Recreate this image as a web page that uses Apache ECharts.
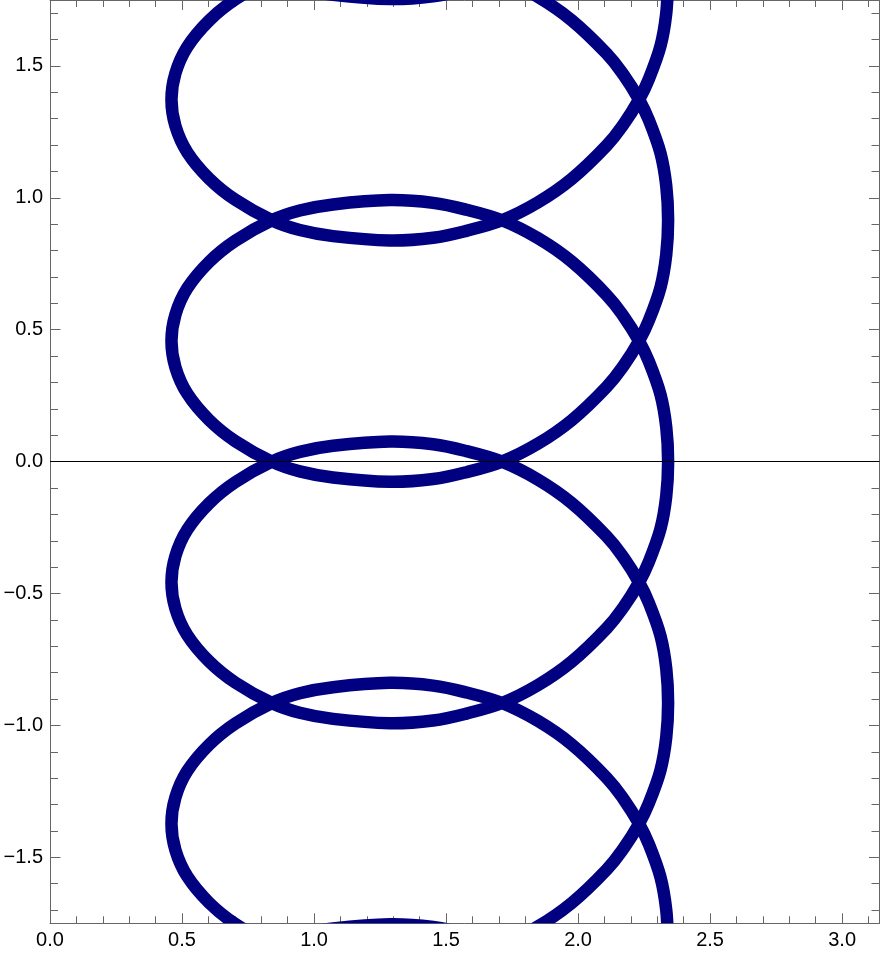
<!DOCTYPE html>
<html>
<head>
<meta charset="utf-8">
<script src="https://cdn.jsdelivr.net/npm/echarts@6/dist/echarts.min.js"></script>
<style>
  html, body { margin: 0; padding: 0; background: #ffffff; }
  #chart { width: 883px; height: 954px; }
</style>
</head>
<body>
<div id="chart"></div>
<script>
// ---- data (theta on x, phi on y) ----
const curveTheta = [
  2.341, 2.334, 2.312, 2.268, 2.231, 2.173, 2.108, 1.976, 1.848, 1.712, 1.577, 1.451, 1.287, 1.072, 0.946, 0.840, 0.702, 0.603, 0.520, 0.475, 0.460,
  0.475, 0.520, 0.603, 0.702, 0.840, 0.946, 1.072, 1.287, 1.451, 1.577, 1.712, 1.848, 1.976, 2.108, 2.173, 2.231, 2.268, 2.312, 2.334, 2.341,
  2.334, 2.312, 2.268, 2.231, 2.173, 2.108, 1.976, 1.848, 1.712, 1.577, 1.451, 1.287, 1.072, 0.946, 0.840, 0.702, 0.603, 0.520, 0.475, 0.460,
  0.475, 0.520, 0.603, 0.702, 0.840, 0.946, 1.072, 1.287, 1.451, 1.577, 1.712, 1.848, 1.976, 2.108, 2.173, 2.231, 2.268, 2.312, 2.334, 2.341,
  2.334, 2.312, 2.268, 2.231, 2.173, 2.108, 1.976, 1.848, 1.712, 1.577, 1.451, 1.287, 1.072, 0.946, 0.840, 0.702, 0.603, 0.520, 0.475, 0.460,
  0.475, 0.520, 0.603, 0.702, 0.840, 0.946, 1.072, 1.287, 1.451, 1.577, 1.712, 1.848, 1.976, 2.108, 2.173, 2.231, 2.268, 2.312, 2.334, 2.341,
  2.334, 2.312, 2.268, 2.231, 2.173, 2.108, 1.976, 1.848, 1.712, 1.577, 1.451, 1.287, 1.072, 0.946, 0.840, 0.702, 0.603, 0.520, 0.475, 0.460,
  0.475, 0.520, 0.603, 0.702, 0.840, 0.946, 1.072, 1.287, 1.451, 1.577, 1.712, 1.848, 1.976, 2.108, 2.173, 2.231, 2.268, 2.312, 2.334, 2.341
];
const curvePhi = [
  1.830, 1.700, 1.575, 1.450, 1.3725, 1.280, 1.198, 1.072, 0.983, 0.915, 0.875, 0.849, 0.8385, 0.855, 0.878, 0.915, 0.9925, 1.0725, 1.1725, 1.2725, 1.3725,
  1.4725, 1.5725, 1.6725, 1.7525, 1.830, 1.867, 1.890, 1.9065, 1.896, 1.870, 1.830, 1.762, 1.673, 1.547, 1.465, 1.3725, 1.295, 1.170, 1.045, 0.915,
  0.785, 0.660, 0.535, 0.4575, 0.365, 0.283, 0.157, 0.068, 0.000, -0.040, -0.066, -0.0765, -0.060, -0.037, 0.000, 0.0775, 0.1575, 0.2575, 0.3575, 0.4575,
  0.5575, 0.6575, 0.7575, 0.8375, 0.915, 0.952, 0.975, 0.9915, 0.981, 0.955, 0.915, 0.847, 0.758, 0.632, 0.550, 0.4575, 0.380, 0.255, 0.130, 0.000,
  -0.130, -0.255, -0.380, -0.4575, -0.550, -0.632, -0.758, -0.847, -0.915, -0.955, -0.981, -0.9915, -0.975, -0.952, -0.915, -0.8375, -0.7575, -0.6575, -0.5575, -0.4575,
  -0.3575, -0.2575, -0.1575, -0.0775, 0.000, 0.037, 0.060, 0.0765, 0.066, 0.040, 0.000, -0.068, -0.157, -0.283, -0.365, -0.4575, -0.535, -0.660, -0.785, -0.915,
  -1.045, -1.170, -1.295, -1.3725, -1.465, -1.547, -1.673, -1.762, -1.830, -1.870, -1.896, -1.9065, -1.890, -1.867, -1.830, -1.7525, -1.6725, -1.5725, -1.4725, -1.3725,
  -1.2725, -1.1725, -1.0725, -0.9925, -0.915, -0.878, -0.855, -0.8385, -0.849, -0.875, -0.915, -0.983, -1.072, -1.198, -1.280, -1.3725, -1.450, -1.575, -1.700, -1.830
];
const topArcTheta = [2.108, 1.976, 1.848, 1.712, 1.577, 1.451, 1.287, 1.072, 0.946, 0.840, 0.702];
const topArcPhi = [2.113, 1.987, 1.898, 1.830, 1.790, 1.764, 1.7535, 1.770, 1.793, 1.830, 1.9075];
const bottomArcTheta = [2.108, 1.976, 1.848, 1.712, 1.577, 1.451, 1.287, 1.072, 0.946, 0.840, 0.702];
const bottomArcPhi = [-2.113, -1.987, -1.898, -1.830, -1.790, -1.764, -1.7535, -1.770, -1.793, -1.830, -1.9075];

// ---- axes / ticks ----
const xRange = [0, Math.PI];
const yRange = [-1.75, 1.75];
const xMajorTicks = [0, 0.5, 1, 1.5, 2, 2.5, 3];
const xMinorTicks = [0.1, 0.2, 0.3, 0.4, 0.6, 0.7, 0.8, 0.9, 1.1, 1.2, 1.3, 1.4, 1.6, 1.7, 1.8, 1.9, 2.1, 2.2, 2.3, 2.4, 2.6, 2.7, 2.8, 2.9, 3.1];
const yMajorTicks = [-1.5, -1, -0.5, 0, 0.5, 1, 1.5];
const yMinorTicks = [-1.7, -1.6, -1.4, -1.3, -1.2, -1.1, -0.9, -0.8, -0.7, -0.6, -0.4, -0.3, -0.2, -0.1,
                     0.1, 0.2, 0.3, 0.4, 0.6, 0.7, 0.8, 0.9, 1.1, 1.2, 1.3, 1.4, 1.6, 1.7];

const FRAME = '#666666';
const CURVE = '#000080';

function fmt(v) {
  return (v < 0 ? '\u2212' : '') + Math.abs(v).toFixed(1);
}
function zip(a, b) { return a.map((v, i) => [v, b[i]]); }

function frameAxis(position, range, ticks, len, withLabels, showLine) {
  return {
    type: 'value',
    position: position,
    min: range[0],
    max: range[1],
    axisLine: { show: showLine, onZero: false, lineStyle: { color: FRAME, width: 1 } },
    axisTick: { show: true, inside: true, length: len, customValues: ticks,
                lineStyle: { color: FRAME, width: 1 } },
    axisLabel: withLabels ? {
      show: true, customValues: ticks, margin: 7, fontSize: 20,
      fontFamily: 'Liberation Sans, Arial, sans-serif', color: '#000000', formatter: fmt
    } : { show: false },
    splitLine: { show: false },
    minorTick: { show: false },
    minorSplitLine: { show: false }
  };
}

// Smooth curve through the read points (Catmull-Rom), positioned through the axes' scales.
function curveSeries(thetas, phis, withZeroLine) {
  const s = {
    type: 'custom',
    coordinateSystem: 'cartesian2d',
    xAxisIndex: 0, yAxisIndex: 0,
    clip: true, silent: true, z: 2,
    encode: { x: 0, y: 1 },
    data: zip(thetas, phis),
    renderItem: function (params, api) {
      if (params.dataIndex !== 0) return null;
      const pts = [];
      for (let i = 0; i < thetas.length; i++) pts.push(api.coord([thetas[i], phis[i]]));
      const n = pts.length;
      let d = 'M' + pts[0][0] + ' ' + pts[0][1];
      for (let i = 0; i < n - 1; i++) {
        const p0 = pts[Math.max(i - 1, 0)], p1 = pts[i], p2 = pts[i + 1], p3 = pts[Math.min(i + 2, n - 1)];
        const c1x = p1[0] + (p2[0] - p0[0]) / 6, c1y = p1[1] + (p2[1] - p0[1]) / 6;
        const c2x = p2[0] - (p3[0] - p1[0]) / 6, c2y = p2[1] - (p3[1] - p1[1]) / 6;
        d += ' C' + c1x + ' ' + c1y + ' ' + c2x + ' ' + c2y + ' ' + p2[0] + ' ' + p2[1];
      }
      return {
        type: 'path',
        shape: { pathData: d },
        style: { fill: null, stroke: CURVE, lineWidth: 12.5, lineCap: 'round', lineJoin: 'round' }
      };
    }
  };
  if (withZeroLine) {
    s.markLine = {
      silent: true, animation: false, symbol: ['none', 'none'],
      label: { show: false },
      lineStyle: { color: '#000000', width: 1, type: 'solid' },
      emphasis: { disabled: true },
      data: [{ yAxis: 0 }]
    };
  }
  return s;
}

const chart = echarts.init(document.getElementById('chart'), null, { renderer: 'canvas' });
chart.setOption({
  animation: false,
  backgroundColor: '#ffffff',
  grid: { left: 50, right: 3.5, top: 0, bottom: 30.7, containLabel: false },
  xAxis: [
    frameAxis('bottom', xRange, xMajorTicks, 10, true, true),
    frameAxis('bottom', xRange, xMinorTicks, 7, false, false),
    frameAxis('top', xRange, xMajorTicks, 10, false, true),
    frameAxis('top', xRange, xMinorTicks, 7, false, false)
  ],
  yAxis: [
    frameAxis('left', yRange, yMajorTicks, 10.5, true, true),
    frameAxis('left', yRange, yMinorTicks, 8, false, false),
    frameAxis('right', yRange, yMajorTicks, 10.5, false, true),
    frameAxis('right', yRange, yMinorTicks, 8, false, false)
  ],
  series: [
    curveSeries(curveTheta, curvePhi, true),
    curveSeries(topArcTheta, topArcPhi, false),
    curveSeries(bottomArcTheta, bottomArcPhi, false)
  ]
});
</script>
</body>
</html>
